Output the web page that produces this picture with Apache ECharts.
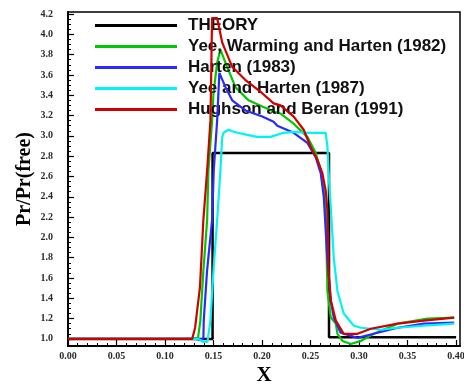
<!DOCTYPE html>
<html>
<head>
<meta charset="utf-8">
<script src="https://cdn.jsdelivr.net/npm/echarts@6/dist/echarts.min.js"></script>
<style>
  html, body { margin: 0; padding: 0; background: #fff; }
  #chart { width: 464px; height: 385px; }
</style>
</head>
<body>
<div id="chart"></div>
<script>
// Pressure ratio along X for several shock-capturing schemes
const seriesNames = [
  'THEORY',
  'Yee, Warming and Harten (1982)',
  'Harten (1983)',
  'Yee and Harten (1987)',
  'Hughson and Beran (1991)'
];

const theoryX = [0, 0.149, 0.149, 0.269, 0.269, 0.40];
const theoryY = [1.0, 1.0, 2.83, 2.83, 1.015, 1.015];

const ywhX = [0, 0.129, 0.134, 0.1364, 0.1395, 0.1434, 0.1447, 0.1485, 0.1499, 0.1537, 0.1571,
  0.164, 0.1726, 0.186, 0.2002, 0.2119, 0.2191, 0.2326, 0.2467, 0.2553, 0.2605, 0.2636, 0.2656,
  0.2674, 0.2708, 0.276, 0.2777, 0.2829, 0.2915, 0.3018, 0.3152, 0.3397, 0.3707, 0.398];
const ywhY = [1.0, 1.0, 1.01, 1.18, 1.67, 2.17, 2.66, 3.15, 3.42, 3.72, 3.85,
  3.68, 3.48, 3.35, 3.29, 3.24, 3.22, 3.12, 2.99, 2.83, 2.66, 2.46, 2.26,
  1.47, 1.21, 1.15, 1.05, 0.98, 0.95, 0.98, 1.05, 1.15, 1.20, 1.21];

const hartenX = [0, 0.1323, 0.1354, 0.1395, 0.1399, 0.1433, 0.1485, 0.1502, 0.1537, 0.1560,
  0.1623, 0.1692, 0.1829, 0.2002, 0.2119, 0.2157, 0.2326, 0.2467, 0.2553, 0.2605, 0.2636,
  0.2674, 0.2708, 0.2739, 0.281, 0.2984, 0.3191, 0.3397, 0.3669, 0.398];
const hartenY = [1.0, 1.0, 0.99, 1.0, 1.18, 1.67, 2.17, 2.66, 3.15, 3.62,
  3.48, 3.35, 3.25, 3.19, 3.14, 3.10, 3.03, 2.93, 2.79, 2.63, 2.40,
  1.77, 1.38, 1.21, 1.06, 1.01, 1.06, 1.11, 1.15, 1.16];

const yhX = [0, 0.1344, 0.1395, 0.1437, 0.1468, 0.1499, 0.1537, 0.1571, 0.1589, 0.1602, 0.1654,
  0.1705, 0.1847, 0.195, 0.2088, 0.2222, 0.2326, 0.2467, 0.2656, 0.2674, 0.269, 0.2708, 0.2739,
  0.2777, 0.2842, 0.2946, 0.3018, 0.3225, 0.3397, 0.3669, 0.398];
const yhY = [1.0, 1.0, 0.97, 0.97, 1.18, 1.67, 2.17, 2.66, 2.99, 3.03, 3.06,
  3.04, 3.01, 2.99, 2.99, 3.03, 3.04, 3.03, 3.03, 2.89, 2.56, 2.30, 1.80,
  1.47, 1.25, 1.13, 1.11, 1.09, 1.11, 1.13, 1.15];

const hbX = [0, 0.128, 0.131, 0.136, 0.1395, 0.1434, 0.1468, 0.1485, 0.1537, 0.1589, 0.1692,
  0.1829, 0.2002, 0.2119, 0.2191, 0.2326, 0.2429, 0.2501, 0.2571, 0.2622, 0.2656, 0.2674,
  0.2677, 0.2687, 0.2708, 0.276, 0.2842, 0.2984, 0.3121, 0.3397, 0.3669, 0.398];
const hbY = [1.0, 1.0, 1.11, 1.51, 2.17, 2.66, 3.15, 4.16, 4.16, 3.92, 3.68,
  3.55, 3.42, 3.32, 3.30, 3.19, 3.06, 2.89, 2.76, 2.63, 2.46, 2.26,
  2.13, 1.64, 1.38, 1.18, 1.05, 1.05, 1.10, 1.15, 1.18, 1.21];

const yTickLabels = [1.0, 1.2, 1.4, 1.6, 1.8, 2.0, 2.2, 2.4, 2.6, 2.8, 3.0, 3.2, 3.4, 3.6, 3.8, 4.0, 4.2];
const xTickLabels = [0.00, 0.05, 0.10, 0.15, 0.20, 0.25, 0.30, 0.35, 0.40];

const colors = ['#000000', '#00c800', '#2a2aff', '#00f4f4', '#d00000'];

function zip(xs, ys) { return xs.map((x, i) => [x, ys[i]]); }

// minor tick positions between the labelled ticks
function minorTicks(major, parts) {
  const out = [];
  for (let i = 0; i < major.length - 1; i++) {
    const step = (major[i + 1] - major[i]) / parts;
    for (let k = 1; k < parts; k++) out.push(+(major[i] + k * step).toFixed(4));
  }
  return out;
}
const yMinor = minorTicks(yTickLabels, 4);
const xMinor = minorTicks(xTickLabels, 5);

const serif = '"Liberation Serif", "Times New Roman", serif';
const sans = '"Liberation Sans", Arial, sans-serif';

const YMIN = 0.93, YMAX = 4.22, XMIN = 0, XMAX = 0.404;

const chart = echarts.init(document.getElementById('chart'), null, { renderer: 'canvas' });

const lineData = [
  zip(theoryX, theoryY),
  zip(ywhX, ywhY),
  zip(hartenX, hartenY),
  zip(yhX, yhY),
  zip(hbX, hbY)
];

chart.setOption({
  animation: false,
  backgroundColor: '#ffffff',
  grid: {
    left: 68, right: 4, top: 12, bottom: 39,
    outerBoundsMode: 'none',
    containLabel: false,
    show: true, borderColor: '#000', borderWidth: 1.5, backgroundColor: 'transparent'
  },
  legend: {
    orient: 'vertical',
    left: 95, top: 17,
    padding: 0,
    itemGap: 4,
    itemWidth: 82,
    itemHeight: 3,
    icon: 'rect',
    selectedMode: false,
    data: seriesNames,
    textStyle: {
      fontFamily: sans, fontSize: 17, fontWeight: 'bold', color: '#111',
      lineHeight: 17, padding: [0, 0, 0, 6]
    }
  },
  xAxis: [{
    type: 'value', min: XMIN, max: XMAX,
    name: 'X', nameLocation: 'middle', nameGap: 19, nameMoveOverlap: false,
    nameTextStyle: { fontFamily: serif, fontWeight: 'bold', fontSize: 21, color: '#000' },
    axisLine: { show: true, lineStyle: { color: '#000', width: 2 } },
    axisTick: { show: true, inside: true, length: 6, lineStyle: { color: '#000', width: 1.2 },
      customValues: xTickLabels },
    axisLabel: { show: true, margin: 5, customValues: xTickLabels,
      formatter: v => v.toFixed(2),
      fontFamily: serif, fontWeight: 'bold', fontSize: 10, color: '#2a2a2a' },
    splitLine: { show: false }
  }, {
    type: 'value', min: XMIN, max: XMAX, position: 'bottom',
    axisLine: { show: false },
    axisTick: { show: true, inside: true, length: 3, lineStyle: { color: '#000', width: 1 },
      customValues: xMinor },
    axisLabel: { show: false },
    splitLine: { show: false }
  }],
  yAxis: [{
    type: 'value', min: YMIN, max: YMAX,
    name: 'Pr/Pr(free)', nameLocation: 'middle', nameGap: 33, nameMoveOverlap: false,
    nameTextStyle: { fontFamily: serif, fontWeight: 'bold', fontSize: 20, color: '#000' },
    axisLine: { show: true, lineStyle: { color: '#000', width: 2 } },
    axisTick: { show: true, inside: true, length: 6, lineStyle: { color: '#000', width: 1.2 },
      customValues: yTickLabels },
    axisLabel: { show: true, margin: 15, customValues: yTickLabels,
      formatter: v => v.toFixed(1),
      fontFamily: serif, fontWeight: 'bold', fontSize: 10, color: '#2a2a2a' },
    splitLine: { show: false }
  }, {
    type: 'value', min: YMIN, max: YMAX, position: 'left',
    axisLine: { show: false },
    axisTick: { show: true, inside: true, length: 3, lineStyle: { color: '#000', width: 1 },
      customValues: yMinor },
    axisLabel: { show: false },
    splitLine: { show: false }
  }],
  series: lineData.map((data, i) => ({
    name: seriesNames[i],
    type: 'line',
    xAxisIndex: 0, yAxisIndex: 0,
    data: data,
    showSymbol: false, symbol: 'none',
    smooth: false,
    color: colors[i],
    lineStyle: { color: colors[i], width: i === 0 ? 2.5 : 2.2 },
    z: 2 + i
  }))
});
</script>
</body>
</html>
